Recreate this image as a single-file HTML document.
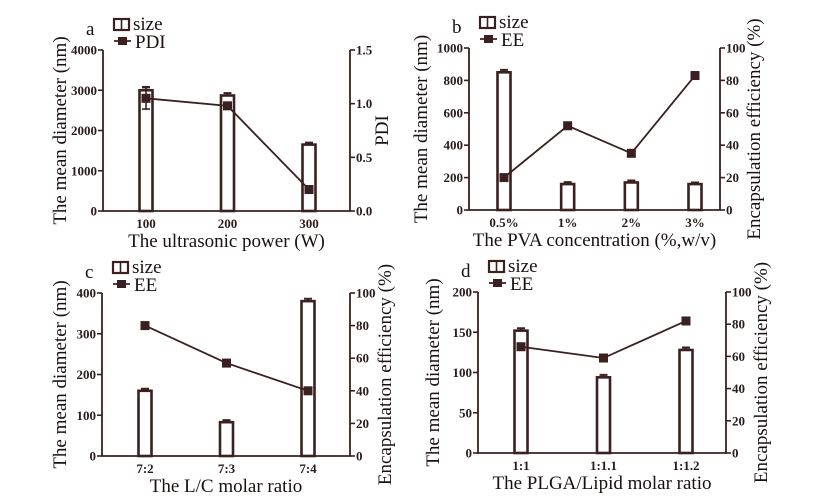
<!DOCTYPE html>
<html><head><meta charset="utf-8"><style>
body{margin:0;background:#fff;}
svg{display:block;font-family:"Liberation Serif",serif;}
.tk{font-size:13px;font-weight:bold;fill:#2a1a1a;}
.tt{font-size:19px;fill:#1a1010;}
.lg{font-size:19px;fill:#1a1010;}
</style></head><body>
<svg id="fig" width="824" height="503" viewBox="0 0 824 503"></svg>
<script>
const catsA=["100","200","300"];
const sizeA=[3000,2870,1650];
const sizeErrA=[80,60,50];
const pdiA=[1.05,0.98,0.2];
const pdiErrA=[0.1,0.02,0.02];
const ticksAL=[0,1000,2000,3000,4000];
const ticksAR=["0.0","0.5","1.0","1.5"];

const catsB=["0.5%","1%","2%","3%"];
const sizeB=[850,160,170,160];
const sizeErrB=[15,12,12,10];
const eeB=[20,52,35,83];
const eeErrB=[2,2,2,1];
const ticksBL=[0,200,400,600,800,1000];
const ticksBR=[0,20,40,60,80,100];

const catsC=["7:2","7:3","7:4"];
const sizeC=[160,83,380];
const sizeErrC=[5,5,6];
const eeC=[80,57,40];
const eeErrC=[1,1,1];
const ticksCL=[0,100,200,300,400];
const ticksCR=[0,20,40,60,80,100];

const catsD=["1:1","1:1.1","1:1.2"];
const sizeD=[152,94,128];
const sizeErrD=[3,3,3];
const eeD=[66,59,82];
const eeErrD=[1,1,2];
const ticksDL=[0,50,100,150,200];
const ticksDR=[0,20,40,60,80,100];

const NS="http://www.w3.org/2000/svg";
const svg=document.getElementById('fig');
const C="#3a2020";
function el(tag,attrs,parent,text){const e=document.createElementNS(NS,tag);for(const k in attrs)e.setAttribute(k,attrs[k]);if(text!==undefined)e.textContent=text;(parent||svg).appendChild(e);return e;}

function panel(p){
  const g=el('g',{});
  
  
  const lMax=p.lt[p.lt.length-1], rMax=parseFloat(p.rt[p.rt.length-1]);
  const yL=v=>p.y0-(v/lMax)*(p.y0-p.y1);
  const yR=v=>p.y0-(v/rMax)*(p.y0-p.y1);
  const step=(p.cx1-p.cx0)/(p.cats.length-1);
  const xC=i=>p.cx0+i*step;
  const ax=el('path',{d:`M${p.xl},${p.y1}V${p.y0}H${p.xr}V${p.y1}`,fill:'none',stroke:C,'stroke-width':1.8},g);
  
  
  p.lt.forEach(v=>{const y=yL(v);el('line',{x1:p.xl-5,x2:p.xl,y1:y,y2:y,stroke:C,'stroke-width':1.6},g);
    const t=el('text',{x:p.xl-6,y:y+4.5,'text-anchor':'end',class:'tk'},g,String(v));
    });
  p.rt.forEach(v=>{const y=yR(parseFloat(v));el('line',{x1:p.xr,x2:p.xr+5,y1:y,y2:y,stroke:C,'stroke-width':1.6},g);
    const t=el('text',{x:p.xr+6,y:y+4.5,class:'tk'},g,String(v));
    });
  p.size.forEach((v,i)=>{const x=xC(i),y=yL(v);
    const b=el('rect',{x:x-6.5,y:y,width:13,height:p.y0-y,fill:'#fff',stroke:C,'stroke-width':2.6},g);
    
    const e1=yL(v+p.sErr[i]);el('path',{d:`M${x},${y}V${e1}M${x-4},${e1}H${x+4}`,stroke:C,'stroke-width':2,fill:'none'},g);
    const x2=el('text',{x:x,y:p.y0+17,'text-anchor':'middle',class:'tk'},g,p.cats[i]);
    });
  const pts=p.line.map((v,i)=>xC(i)+','+yR(v)).join(' ');
  const ln=el('polyline',{points:pts,fill:'none',stroke:C,'stroke-width':1.8},g);
  
  p.line.forEach((v,i)=>{const x=xC(i),y=yR(v);
    const a=yR(v+p.lErr[i]),b=yR(v-p.lErr[i]);
    el('path',{d:`M${x},${a}V${b}M${x-4},${a}H${x+4}M${x-4},${b}H${x+4}`,stroke:C,'stroke-width':1.6,fill:'none'},g);
    const m=el('rect',{x:x-4.5,y:y-4.5,width:9,height:9,fill:C},g);
    });
  const xt=el('text',{x:(p.xl+p.xr)/2,y:p.y0+36,'text-anchor':'middle',class:'tt'},g,p.xtitle);
  
  const cy=(p.y0+p.y1)/2;
  const ly=el('text',{x:p.ltx,y:cy,'text-anchor':'middle',class:'tt',transform:`rotate(-90 ${p.ltx} ${cy})`},g,'The mean diameter (nm)');
  
  const ry=el('text',{x:p.rtx,y:cy,'text-anchor':'middle',class:'tt',transform:`rotate(-90 ${p.rtx} ${cy})`},g,p.rtitle);
  
  const lb=el('text',{x:p.xl-17,y:p.y1-15,class:'lg','font-size':'21'},g,p.id);
  
  const lx=p.xl+11, ly1=p.y1-20;
  const lg=el('g',{},g);
  el('rect',{x:lx,y:ly1-11,width:15,height:11,fill:'#fff',stroke:C,'stroke-width':2.2},lg);
  el('line',{x1:lx+7.5,x2:lx+7.5,y1:ly1-11,y2:ly1,stroke:C,'stroke-width':1.6},lg);
  el('text',{x:lx+19,y:ly1,class:'lg'},lg,'size');
  el('line',{x1:lx,x2:lx+17,y1:ly1+11,y2:ly1+11,stroke:C,'stroke-width':1.8},lg);
  el('rect',{x:lx+4,y:ly1+7,width:9,height:8,fill:C},lg);
  el('text',{x:lx+21,y:ly1+18,class:'lg'},lg,p.lname);
}
panel({id:'a',cats:catsA,size:sizeA,sErr:sizeErrA,line:pdiA,lErr:pdiErrA,lt:ticksAL,rt:ticksAR,lname:'PDI',
  xl:103,xr:350,y0:211,y1:50,cx0:146,cx1:309,xtitle:'The ultrasonic power (W)',rtitle:'PDI',ltx:66,rtx:388});
panel({id:'b',cats:catsB,size:sizeB,sErr:sizeErrB,line:eeB,lErr:eeErrB,lt:ticksBL,rt:ticksBR,lname:'EE',
  xl:469,xr:720,y0:210,y1:48,cx0:504,cx1:695,xtitle:'The PVA concentration (%,w/v)',rtitle:'Encapsulation efficiency (%)',ltx:427,rtx:760});
panel({id:'c',cats:catsC,size:sizeC,sErr:sizeErrC,line:eeC,lErr:eeErrC,lt:ticksCL,rt:ticksCR,lname:'EE',
  xl:102,xr:350,y0:456,y1:293,cx0:145,cx1:308,xtitle:'The L/C molar ratio',rtitle:'Encapsulation efficiency (%)',ltx:66,rtx:391});
panel({id:'d',cats:catsD,size:sizeD,sErr:sizeErrD,line:eeD,lErr:eeErrD,lt:ticksDL,rt:ticksDR,lname:'EE',
  xl:478,xr:726,y0:453,y1:292,cx0:521,cx1:686,xtitle:'The PLGA/Lipid molar ratio',rtitle:'Encapsulation efficiency (%)',ltx:439,rtx:767});
</script>
</body></html>
